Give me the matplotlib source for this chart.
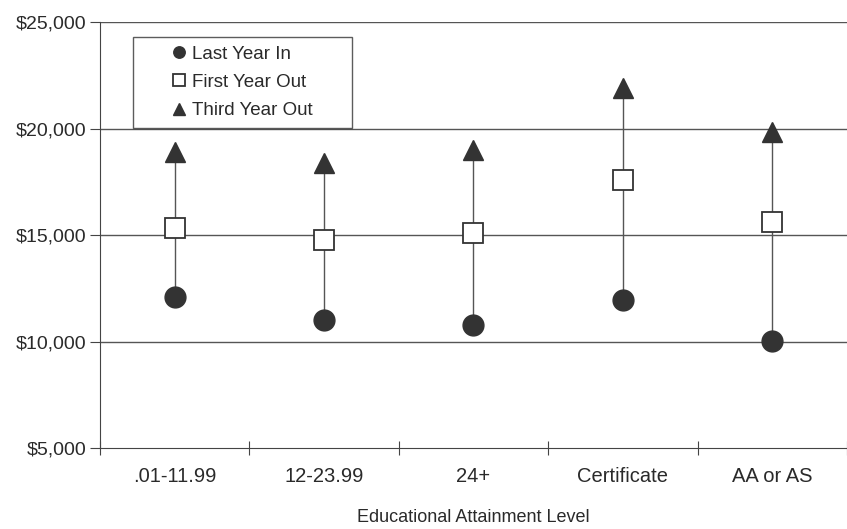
import numpy as np
import matplotlib.pyplot as plt
from matplotlib.ticker import FuncFormatter
from matplotlib.legend_handler import HandlerLine2D

plt.rcParams['font.family'] = ['Liberation Sans', 'DejaVu Sans']

categories = ['.01-11.99', '12-23.99', '24+', 'Certificate', 'AA or AS']
last_year_in = [12100, 11000, 10800, 11950, 10030]
first_year_out = [15350, 14750, 15100, 17600, 15600]
third_year_out = [18900, 18380, 19000, 21900, 19850]

x = np.arange(len(categories)) + 0.5
dark = '#333333'
txt = '#2a2a2a'


class RightMarker(HandlerLine2D):
    # legend draws the marker at the middle of xdata, so shift that middle to the right end
    def get_xdata(self, legend, xdescent, ydescent, width, height, fontsize):
        right = width - xdescent
        m = right - 0.3 * fontsize
        return [2 * m - right, right], [m]


fig = plt.figure(figsize=(8.47, 5.29), dpi=100)
ax = fig.add_axes([0.118, 0.153, 0.882, 0.805])

ax.set_ylim(5000, 25000)
ax.set_xlim(0, len(categories))
ax.set_yticks([5000, 10000, 15000, 20000, 25000])
ax.yaxis.set_major_formatter(FuncFormatter(lambda v, p: f'${v:,.0f}'))
ax.set_xticks(np.arange(len(categories) + 1))
ax.set_xticklabels([])
ax.set_xticks(x, minor=True)
ax.set_xticklabels(categories, minor=True)
ax.tick_params(axis='x', which='minor', length=0, pad=13.5, labelsize=14.5, colors=txt)
ax.tick_params(axis='x', which='major', direction='inout', length=10, color='#444444')
ax.tick_params(axis='y', direction='out', length=7, pad=3, labelsize=14, colors=txt, color='#444444')

for y in [10000, 15000, 20000, 25000]:
    ax.axhline(y, color='#555555', lw=1, zorder=1)

for s in ['top', 'right']:
    ax.spines[s].set_visible(False)
ax.spines['left'].set_color('#444444')
ax.spines['bottom'].set_color('#444444')

ax.vlines(x, last_year_in, third_year_out, color='#555555', lw=1, zorder=2)
ax.plot(x, last_year_in, 'o', ms=15, color=dark, ls='none', zorder=3, label='Last Year In')
ax.plot(x, first_year_out, 's', ms=15, mfc='white', mec=dark, mew=1.3, ls='none', zorder=3,
        label='First Year Out')
ax.plot(x, third_year_out, '^', ms=15, color=dark, ls='none', zorder=3, label='Third Year Out')

# legend box: pixel 133..352 wide, 37..127 tall
leg = ax.legend(loc='upper left', bbox_to_anchor=(133 / 847, 1 - 37 / 529, 219 / 847, 0),
                bbox_transform=fig.transFigure, mode='expand', frameon=True, fancybox=False,
                fontsize=13.5, markerscale=0.55, handletextpad=0.4, handlelength=2.3,
                borderpad=0.45, labelspacing=0.6, borderaxespad=0,
                handler_map={plt.Line2D: RightMarker()})
leg.get_frame().set_edgecolor('#333333')
leg.get_frame().set_linewidth(1)
for t in leg.get_texts():
    t.set_color(txt)

ax.set_xlabel('Educational Attainment Level', fontsize=13, labelpad=17, color=txt)

fig.savefig('out.png', dpi=100)
